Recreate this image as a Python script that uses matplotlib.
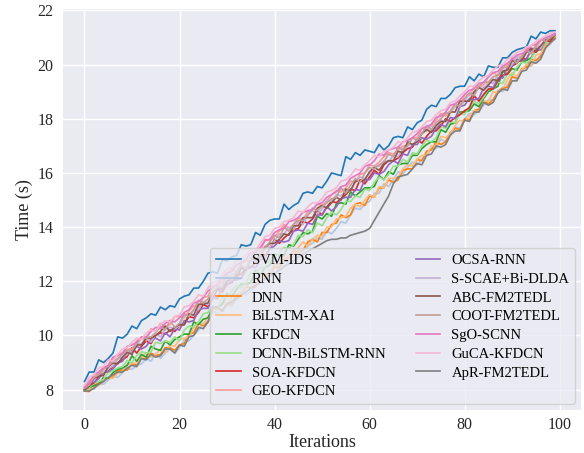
import numpy as np
import matplotlib
matplotlib.use("Agg")
import matplotlib.pyplot as plt

plt.rcParams["font.family"] = ["Liberation Serif", "DejaVu Serif"]

iterations = list(range(100))

labels = [
    "SVM-IDS", "RNN", "DNN", "BiLSTM-XAI", "KFDCN", "DCNN-BiLSTM-RNN",
    "SOA-KFDCN", "GEO-KFDCN", "OCSA-RNN", "S-SCAE+Bi-DLDA", "ABC-FM2TEDL",
    "COOT-FM2TEDL", "SgO-SCNN", "GuCA-KFDCN", "ApR-FM2TEDL",
]

svm_ids = [
    8.30, 8.65, 8.65, 9.10, 9.00, 9.15, 9.35, 9.95, 9.90, 10.05,
    10.35, 10.25, 10.55, 10.65, 10.80, 10.75, 11.05, 10.95, 11.10, 11.05,
    11.35, 11.45, 11.50, 11.75, 11.75, 12.00, 12.30, 12.35, 12.30, 12.80,
    12.75, 12.90, 12.95, 13.35, 13.30, 13.35, 13.80, 13.70, 14.10, 14.25,
    14.30, 14.30, 14.85, 14.65, 14.80, 14.90, 15.25, 15.30, 15.25, 15.50,
    15.45, 15.70, 16.00, 15.95, 15.90, 16.60, 16.50, 16.75, 16.65, 16.85,
    16.80, 16.75, 17.05, 16.85, 17.00, 17.30, 17.35, 17.30, 17.70, 17.60,
    17.85, 17.95, 18.35, 18.50, 18.45, 18.75, 18.75, 18.90, 19.15, 19.20,
    19.20, 19.55, 19.40, 19.65, 19.55, 19.95, 19.90, 19.90, 20.25, 20.25,
    20.45, 20.55, 20.60, 20.65, 21.05, 20.95, 21.20, 21.15, 21.25, 21.25,
]
rnn = [
    7.95, 8.03, 8.02, 8.23, 8.20, 8.35, 8.50, 8.45, 8.63, 8.78,
    8.75, 8.90, 8.95, 9.15, 9.05, 9.35, 9.15, 9.35, 9.50, 9.35,
    9.55, 9.85, 9.80, 10.00, 10.20, 10.45, 10.50, 10.90, 10.80, 10.95,
    11.15, 11.05, 11.35, 11.55, 11.50, 11.65, 11.80, 12.00, 12.05, 12.40,
    12.30, 12.50, 12.75, 12.65, 12.95, 13.15, 13.10, 13.30, 13.40, 13.60,
    13.55, 13.85, 13.75, 13.95, 14.20, 14.15, 14.45, 14.70, 14.65, 14.85,
    14.95, 15.25, 15.25, 15.60, 15.50, 15.75, 16.05, 15.95, 16.20, 16.40,
    16.30, 16.50, 16.65, 16.90, 16.90, 17.25, 17.15, 17.40, 17.70, 17.65,
    18.00, 18.20, 18.15, 18.30, 18.50, 18.70, 18.70, 19.05, 19.00, 19.25,
    19.55, 19.45, 19.75, 20.00, 19.95, 20.15, 20.35, 20.65, 20.75, 21.00,
]
dnn = [
    7.95, 7.93, 8.15, 8.25, 8.38, 8.42, 8.45, 8.70, 8.73, 8.72,
    8.95, 8.90, 9.15, 9.15, 9.35, 9.25, 9.30, 9.55, 9.55, 9.45,
    9.65, 9.70, 10.05, 10.10, 10.45, 10.35, 10.50, 10.95, 11.05, 10.90,
    11.20, 11.15, 11.50, 11.55, 11.80, 11.75, 11.80, 12.15, 12.25, 12.20,
    12.55, 12.50, 12.85, 12.85, 13.15, 13.05, 13.15, 13.45, 13.55, 13.45,
    13.80, 13.80, 14.10, 14.15, 14.45, 14.35, 14.45, 14.85, 14.90, 14.80,
    15.15, 15.10, 15.45, 15.45, 15.75, 15.65, 15.75, 16.10, 16.15, 16.15,
    16.50, 16.45, 16.80, 16.85, 17.15, 17.05, 17.15, 17.50, 17.65, 17.60,
    18.00, 17.95, 18.30, 18.35, 18.65, 18.55, 18.70, 19.00, 19.15, 19.15,
    19.55, 19.50, 19.85, 19.90, 20.20, 20.15, 20.30, 20.70, 20.85, 21.00,
]
bilstm_xai = [
    7.95, 8.00, 8.13, 8.15, 8.30, 8.43, 8.42, 8.60, 8.67, 8.93,
    8.95, 9.00, 9.20, 9.35, 9.20, 9.30, 9.50, 9.35, 9.65, 9.60,
    9.85, 9.90, 9.95, 10.30, 10.50, 10.40, 10.70, 10.95, 10.95, 11.25,
    11.15, 11.45, 11.45, 11.55, 11.80, 12.00, 11.85, 12.10, 12.30, 12.25,
    12.65, 12.60, 12.95, 12.90, 13.00, 13.25, 13.45, 13.30, 13.55, 13.70,
    13.65, 14.00, 14.00, 14.30, 14.35, 14.40, 14.70, 14.85, 14.75, 15.00,
    15.20, 15.10, 15.50, 15.45, 15.80, 15.80, 15.85, 16.15, 16.30, 16.25,
    16.50, 16.65, 16.65, 17.00, 17.00, 17.35, 17.30, 17.45, 17.75, 17.95,
    17.90, 18.10, 18.30, 18.25, 18.65, 18.65, 19.00, 18.95, 19.10, 19.45,
    19.70, 19.55, 19.80, 20.00, 19.95, 20.35, 20.40, 20.75, 20.80, 20.95,
]
kfdcn = [
    7.98, 8.08, 8.15, 8.20, 8.45, 8.42, 8.63, 8.75, 8.80, 8.90,
    9.25, 9.05, 9.30, 9.20, 9.60, 9.50, 9.45, 9.80, 9.65, 9.85,
    9.95, 10.05, 10.05, 10.50, 10.40, 10.60, 10.65, 11.05, 11.05, 11.15,
    11.55, 11.45, 11.70, 11.90, 11.90, 11.95, 12.40, 12.25, 12.50, 12.60,
    13.00, 12.95, 12.95, 13.35, 13.30, 13.55, 13.80, 13.75, 13.85, 14.40,
    14.30, 14.50, 14.40, 14.85, 14.90, 14.85, 15.30, 15.15, 15.30, 15.45,
    15.45, 15.50, 15.90, 15.75, 16.05, 15.95, 16.30, 16.35, 16.35, 16.65,
    16.65, 16.90, 17.05, 17.15, 17.15, 17.60, 17.50, 17.80, 17.85, 18.25,
    18.25, 18.30, 18.55, 18.45, 18.75, 19.00, 19.10, 19.20, 19.75, 19.65,
    19.85, 19.80, 20.10, 20.15, 20.25, 20.55, 20.55, 20.80, 20.95, 21.05,
]
dcnn_bilstm_rnn = [
    7.98, 8.08, 8.25, 8.30, 8.38, 8.63, 8.70, 8.80, 8.85, 9.08,
    9.00, 9.25, 9.40, 9.35, 9.40, 9.75, 9.70, 9.80, 9.75, 9.95,
    9.80, 10.20, 10.35, 10.30, 10.50, 10.80, 10.85, 11.10, 11.00, 11.40,
    11.40, 11.65, 11.85, 11.75, 11.95, 12.30, 12.30, 12.50, 12.50, 12.80,
    12.80, 13.05, 13.25, 13.20, 13.35, 13.70, 13.65, 13.90, 13.80, 14.15,
    14.05, 14.35, 14.55, 14.45, 14.65, 14.95, 14.95, 15.15, 15.10, 15.40,
    15.35, 15.65, 15.85, 15.75, 15.95, 16.25, 16.25, 16.50, 16.40, 16.75,
    16.70, 17.00, 17.20, 17.15, 17.30, 17.70, 17.65, 17.90, 17.85, 18.20,
    18.15, 18.45, 18.65, 18.55, 18.80, 19.10, 19.10, 19.35, 19.30, 19.65,
    19.60, 19.90, 20.10, 20.05, 20.20, 20.55, 20.55, 20.80, 20.90, 21.05,
]
soa_kfdcn = [
    8.00, 8.15, 8.25, 8.48, 8.63, 8.67, 8.85, 9.00, 9.10, 9.22,
    9.55, 9.35, 9.60, 9.80, 9.70, 10.00, 10.10, 10.05, 10.20, 10.15,
    10.35, 10.40, 10.70, 10.65, 10.85, 11.15, 11.05, 11.40, 11.70, 11.60,
    11.90, 11.95, 12.25, 12.25, 12.50, 12.50, 12.70, 12.95, 12.95, 13.20,
    13.55, 13.40, 13.60, 13.75, 13.90, 13.95, 14.20, 14.15, 14.30, 14.60,
    14.45, 14.75, 14.95, 14.90, 15.05, 15.20, 15.40, 15.35, 15.75, 15.60,
    15.85, 16.10, 15.95, 16.30, 16.45, 16.45, 16.55, 16.75, 16.90, 16.95,
    17.25, 17.10, 17.35, 17.55, 17.55, 17.75, 18.00, 17.90, 18.05, 18.15,
    18.30, 18.40, 18.85, 18.65, 18.90, 19.10, 19.10, 19.40, 19.60, 19.65,
    19.95, 20.05, 20.25, 20.20, 20.55, 20.45, 20.65, 20.90, 20.85, 21.10,
]
geo_kfdcn = [
    8.10, 8.35, 8.40, 8.65, 8.80, 8.85, 9.10, 9.30, 9.35, 9.50,
    9.50, 9.80, 9.90, 9.80, 10.25, 10.15, 10.45, 10.30, 10.40, 10.70,
    10.70, 10.65, 10.90, 11.10, 11.05, 11.40, 11.45, 11.85, 11.80, 12.00,
    12.30, 12.45, 12.35, 12.65, 12.75, 12.75, 13.15, 13.10, 13.55, 13.50,
    13.65, 13.85, 14.10, 13.95, 14.10, 14.35, 14.25, 14.60, 14.65, 14.85,
    14.80, 14.95, 15.20, 15.35, 15.30, 15.45, 15.70, 15.65, 15.95, 16.00,
    16.30, 16.25, 16.40, 16.60, 16.75, 16.70, 16.85, 17.00, 17.00, 17.30,
    17.30, 17.65, 17.60, 17.75, 17.95, 18.20, 18.10, 18.30, 18.55, 18.45,
    18.90, 18.85, 19.20, 19.15, 19.25, 19.55, 19.70, 19.60, 19.85, 20.00,
    20.00, 20.30, 20.30, 20.60, 20.60, 20.60, 20.90, 20.95, 21.05, 21.15,
]
ocsa_rnn = [
    8.00, 8.28, 8.27, 8.40, 8.65, 8.68, 8.77, 8.98, 9.05, 9.35,
    9.40, 9.60, 9.50, 9.60, 9.85, 9.90, 9.80, 10.10, 9.95, 10.25,
    10.20, 10.55, 10.50, 10.55, 10.95, 11.00, 11.00, 11.40, 11.35, 11.80,
    11.85, 12.05, 12.05, 12.10, 12.45, 12.55, 12.50, 12.80, 12.85, 13.20,
    13.30, 13.50, 13.45, 13.50, 13.85, 13.90, 13.85, 14.15, 14.10, 14.45,
    14.45, 14.75, 14.60, 14.75, 15.05, 15.10, 15.10, 15.40, 15.35, 15.75,
    15.75, 16.00, 15.95, 16.05, 16.30, 16.45, 16.35, 16.70, 16.65, 17.05,
    17.05, 17.30, 17.25, 17.35, 17.65, 17.80, 17.70, 18.05, 18.00, 18.45,
    18.50, 18.75, 18.70, 18.75, 19.15, 19.20, 19.15, 19.50, 19.50, 19.90,
    19.95, 20.20, 20.15, 20.20, 20.55, 20.60, 20.55, 20.90, 20.95, 21.10,
]
s_scae_bi_dlda = [
    8.05, 8.33, 8.35, 8.60, 8.65, 8.78, 8.87, 9.13, 9.20, 9.30,
    9.45, 9.70, 9.70, 9.95, 9.75, 10.05, 9.95, 10.25, 10.30, 10.25,
    10.35, 10.75, 10.75, 10.95, 10.95, 11.25, 11.15, 11.60, 11.75, 11.75,
    12.00, 12.25, 12.30, 12.50, 12.45, 12.75, 12.75, 13.00, 13.30, 13.25,
    13.50, 13.75, 13.75, 14.00, 13.90, 14.20, 14.10, 14.45, 14.60, 14.50,
    14.65, 15.00, 14.95, 15.20, 15.15, 15.35, 15.35, 15.65, 15.85, 15.80,
    15.95, 16.25, 16.25, 16.45, 16.40, 16.65, 16.60, 16.90, 17.05, 17.05,
    17.20, 17.50, 17.55, 17.75, 17.70, 17.95, 17.90, 18.25, 18.45, 18.45,
    18.65, 18.95, 18.95, 19.15, 19.10, 19.35, 19.30, 19.65, 19.80, 19.80,
    20.00, 20.30, 20.25, 20.50, 20.40, 20.70, 20.60, 20.95, 21.05, 21.15,
]
abc_fm2tedl = [
    8.00, 8.12, 8.43, 8.50, 8.52, 8.85, 8.98, 8.95, 9.20, 9.38,
    9.30, 9.65, 9.65, 9.90, 9.90, 10.00, 10.15, 10.35, 10.15, 10.30,
    10.40, 10.40, 10.80, 10.75, 11.15, 11.15, 11.20, 11.60, 11.75, 11.70,
    12.00, 12.10, 12.10, 12.50, 12.40, 12.85, 12.80, 12.90, 13.25, 13.40,
    13.40, 13.55, 13.75, 13.70, 14.05, 14.05, 14.35, 14.35, 14.35, 14.70,
    14.80, 14.70, 14.90, 15.10, 15.00, 15.40, 15.35, 15.70, 15.70, 15.75,
    16.05, 16.20, 16.10, 16.35, 16.45, 16.45, 16.80, 16.75, 17.15, 17.05,
    17.15, 17.45, 17.60, 17.50, 17.75, 17.90, 17.90, 18.25, 18.25, 18.65,
    18.65, 18.65, 19.00, 19.15, 19.05, 19.25, 19.45, 19.40, 19.75, 19.80,
    20.15, 20.10, 20.15, 20.45, 20.60, 20.50, 20.70, 20.90, 20.95, 21.10,
]
coot_fm2tedl = [
    8.05, 8.17, 8.45, 8.55, 8.75, 8.87, 9.03, 9.15, 9.30, 9.45,
    9.45, 9.70, 9.90, 9.90, 9.95, 10.10, 10.35, 10.20, 10.55, 10.30,
    10.45, 10.80, 10.70, 10.95, 11.30, 11.20, 11.35, 11.60, 11.80, 11.80,
    12.25, 12.05, 12.35, 12.60, 12.45, 12.85, 13.10, 12.95, 13.25, 13.45,
    13.70, 13.60, 14.00, 13.85, 14.10, 14.25, 14.25, 14.45, 14.70, 14.60,
    14.75, 14.90, 15.05, 15.10, 15.45, 15.25, 15.55, 15.80, 15.65, 16.00,
    16.20, 16.15, 16.30, 16.40, 16.70, 16.60, 16.95, 16.85, 17.00, 17.30,
    17.20, 17.45, 17.75, 17.60, 17.85, 18.00, 18.20, 18.25, 18.55, 18.45,
    18.75, 18.95, 18.85, 19.20, 19.35, 19.35, 19.55, 19.60, 19.90, 19.90,
    20.25, 20.05, 20.30, 20.55, 20.40, 20.70, 20.95, 20.85, 21.00, 21.10,
]
sgo_scnn = [
    8.10, 8.25, 8.55, 8.65, 8.80, 8.90, 9.20, 9.25, 9.35, 9.60,
    9.65, 9.75, 9.95, 9.95, 10.15, 10.30, 10.25, 10.45, 10.55, 10.50,
    10.65, 10.85, 10.95, 11.20, 11.25, 11.40, 11.65, 11.75, 11.90, 12.15,
    12.30, 12.35, 12.60, 12.70, 12.80, 13.05, 13.10, 13.25, 13.50, 13.55,
    13.80, 13.90, 13.95, 14.20, 14.25, 14.35, 14.55, 14.60, 14.65, 14.85,
    14.90, 15.10, 15.20, 15.30, 15.50, 15.55, 15.80, 15.90, 16.00, 16.25,
    16.30, 16.45, 16.70, 16.65, 16.85, 16.90, 16.95, 17.15, 17.20, 17.30,
    17.45, 17.65, 17.70, 17.80, 18.05, 18.10, 18.25, 18.50, 18.55, 18.70,
    18.90, 19.05, 19.10, 19.30, 19.35, 19.55, 19.70, 19.75, 19.95, 20.05,
    20.20, 20.35, 20.40, 20.50, 20.70, 20.75, 20.90, 21.00, 21.05, 21.15,
]
guca_kfdcn = [
    8.15, 8.45, 8.55, 8.80, 8.85, 9.10, 9.05, 9.30, 9.50, 9.55,
    9.75, 9.90, 9.85, 10.10, 10.20, 10.15, 10.40, 10.55, 10.50, 10.70,
    10.75, 11.05, 11.10, 11.25, 11.50, 11.45, 11.75, 11.95, 12.00, 12.25,
    12.45, 12.50, 12.75, 12.80, 12.95, 13.20, 13.15, 13.40, 13.65, 13.70,
    13.95, 14.00, 14.20, 14.25, 14.35, 14.60, 14.55, 14.75, 14.90, 14.90,
    15.05, 15.30, 15.35, 15.45, 15.70, 15.75, 15.90, 16.15, 16.10, 16.30,
    16.45, 16.65, 16.60, 16.80, 16.85, 16.95, 17.15, 17.10, 17.30, 17.50,
    17.55, 17.70, 17.90, 17.95, 18.15, 18.30, 18.35, 18.60, 18.65, 18.85,
    19.00, 19.20, 19.20, 19.40, 19.55, 19.60, 19.80, 19.95, 20.00, 20.20,
    20.30, 20.45, 20.50, 20.65, 20.70, 20.85, 20.95, 21.05, 21.15, 21.20,
]
apr_fm2tedl = [
    7.95, 7.95, 8.05, 8.20, 8.30, 8.45, 8.55, 8.65, 8.65, 8.80,
    8.90, 8.85, 9.15, 9.10, 9.30, 9.20, 9.25, 9.50, 9.50, 9.35,
    9.65, 9.60, 9.95, 10.00, 10.30, 10.25, 10.50, 11.05, 11.05, 10.90,
    11.15, 11.25, 11.35, 11.50, 11.60, 11.75, 11.85, 11.95, 12.10, 12.20,
    12.30, 12.40, 12.55, 12.65, 12.75, 12.90, 13.00, 13.10, 13.20, 13.30,
    13.40, 13.50, 13.55, 13.55, 13.60, 13.60, 13.70, 13.75, 13.80, 13.85,
    13.95, 14.25, 14.55, 14.85, 15.15, 15.60, 15.85, 15.90, 15.95, 16.15,
    16.35, 16.30, 16.65, 16.70, 17.00, 16.95, 17.05, 17.40, 17.55, 17.55,
    17.95, 17.90, 18.25, 18.25, 18.60, 18.50, 18.60, 18.95, 19.10, 19.05,
    19.40, 19.40, 19.75, 19.80, 20.10, 20.05, 20.20, 20.60, 20.80, 20.95,
]

series = [
    svm_ids, rnn, dnn, bilstm_xai, kfdcn, dcnn_bilstm_rnn, soa_kfdcn,
    geo_kfdcn, ocsa_rnn, s_scae_bi_dlda, abc_fm2tedl, coot_fm2tedl,
    sgo_scnn, guca_kfdcn, apr_fm2tedl,
]

colors = plt.get_cmap("tab20").colors

fig = plt.figure(figsize=(5.84, 4.53), dpi=100)
ax = fig.add_axes([0.108, 0.095, 0.887, 0.885])
ax.set_facecolor("#eaeaf2")
ax.grid(True, color="white", linewidth=1.0)
ax.set_axisbelow(True)
for s in ax.spines.values():
    s.set_visible(False)

for i, (name, vals) in enumerate(zip(labels, series)):
    ax.plot(iterations, vals, color=colors[i], linewidth=1.2, label=name)

ax.set_xlim(-4.5, 104.5)
ax.set_ylim(7.25, 22.05)
ax.set_xticks([0, 20, 40, 60, 80, 100])
ax.set_yticks([8, 10, 12, 14, 16, 18, 20, 22])
ax.tick_params(axis="both", length=0, labelsize=11.5, labelcolor="#262626")
ax.tick_params(axis="x", pad=5)
ax.tick_params(axis="y", pad=7)
ax.set_xlabel("Iterations", fontsize=13, color="#262626", labelpad=1)
ax.set_ylabel("Time (s)", fontsize=13, color="#262626", labelpad=3)

leg = ax.legend(
    ncol=2, loc="lower right", fontsize=10.5, labelspacing=0.38,
    handlelength=1.7, handletextpad=0.75, columnspacing=2.0,
    borderaxespad=0.4, frameon=True, fancybox=True,
)
leg.get_frame().set_facecolor("#eaeaf2")
leg.get_frame().set_alpha(0.8)
leg.get_frame().set_edgecolor("#cccccc")

fig.savefig("out.png", dpi=100)
